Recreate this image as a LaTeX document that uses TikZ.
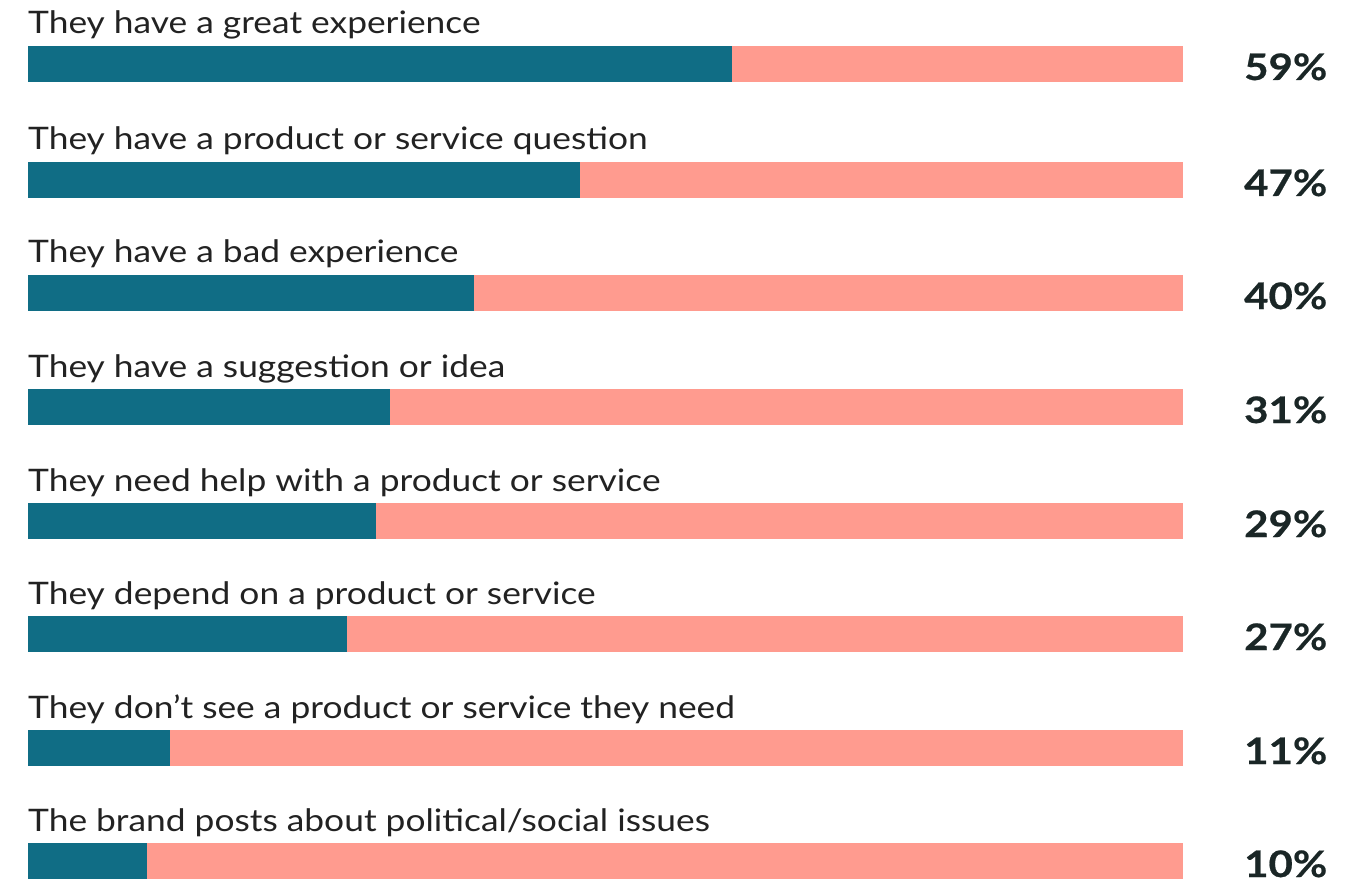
\documentclass[tikz,border=0pt]{standalone}
\usepackage{fontspec}
\setmainfont{Lato}
\newfontfamily\lblfont[FakeStretch=1.14]{Lato}
\newfontfamily\pctfont[FakeStretch=1.15,FakeBold=0.6]{Lato}
\definecolor{teal}{HTML}{106D85}
\definecolor{salmon}{HTML}{FF9B8F}
\definecolor{txt}{HTML}{222222}
\definecolor{pct}{HTML}{1A2626}
\begin{document}
\begin{tikzpicture}[x=1pt,y=-1pt,
  lbl/.style={anchor=base west,inner sep=0pt,text=txt,font=\lblfont\fontsize{31}{34}\selectfont},
  pctl/.style={anchor=base west,inner sep=0pt,text=pct,font=\pctfont\fontsize{36.5}{40}\selectfont\bfseries},
  barbg/.style={fill=salmon,draw=none},
  barfg/.style={fill=teal,draw=none}]
\useasboundingbox (0,0) rectangle (1359,882);
\foreach \t/\e/\lab/\p [count=\i] in {
  46/732/{They have a great experience}/59\%,
  162/580/{They have a product or service question}/47\%,
  275/474/{They have a bad experience}/40\%,
  389/390/{They have a suggestion or idea}/31\%,
  503/376/{They need help with a product or service}/29\%,
  616/347/{They depend on a product or service}/27\%,
  730/170/{They don’t see a product or service they need}/11\%,
  843/147/{The brand posts about political/social issues}/10\%}{
  \fill[barbg] (28,\t) rectangle (1183,\t+36);
  \fill[barfg] (28,\t) rectangle (\e,\t+36);
  \node[lbl] (l\i) at (28,\t-12) {\lab};
  \node[pctl] (p\i) at (1244,\t+34) {\p};
}
\end{tikzpicture}
\end{document}
